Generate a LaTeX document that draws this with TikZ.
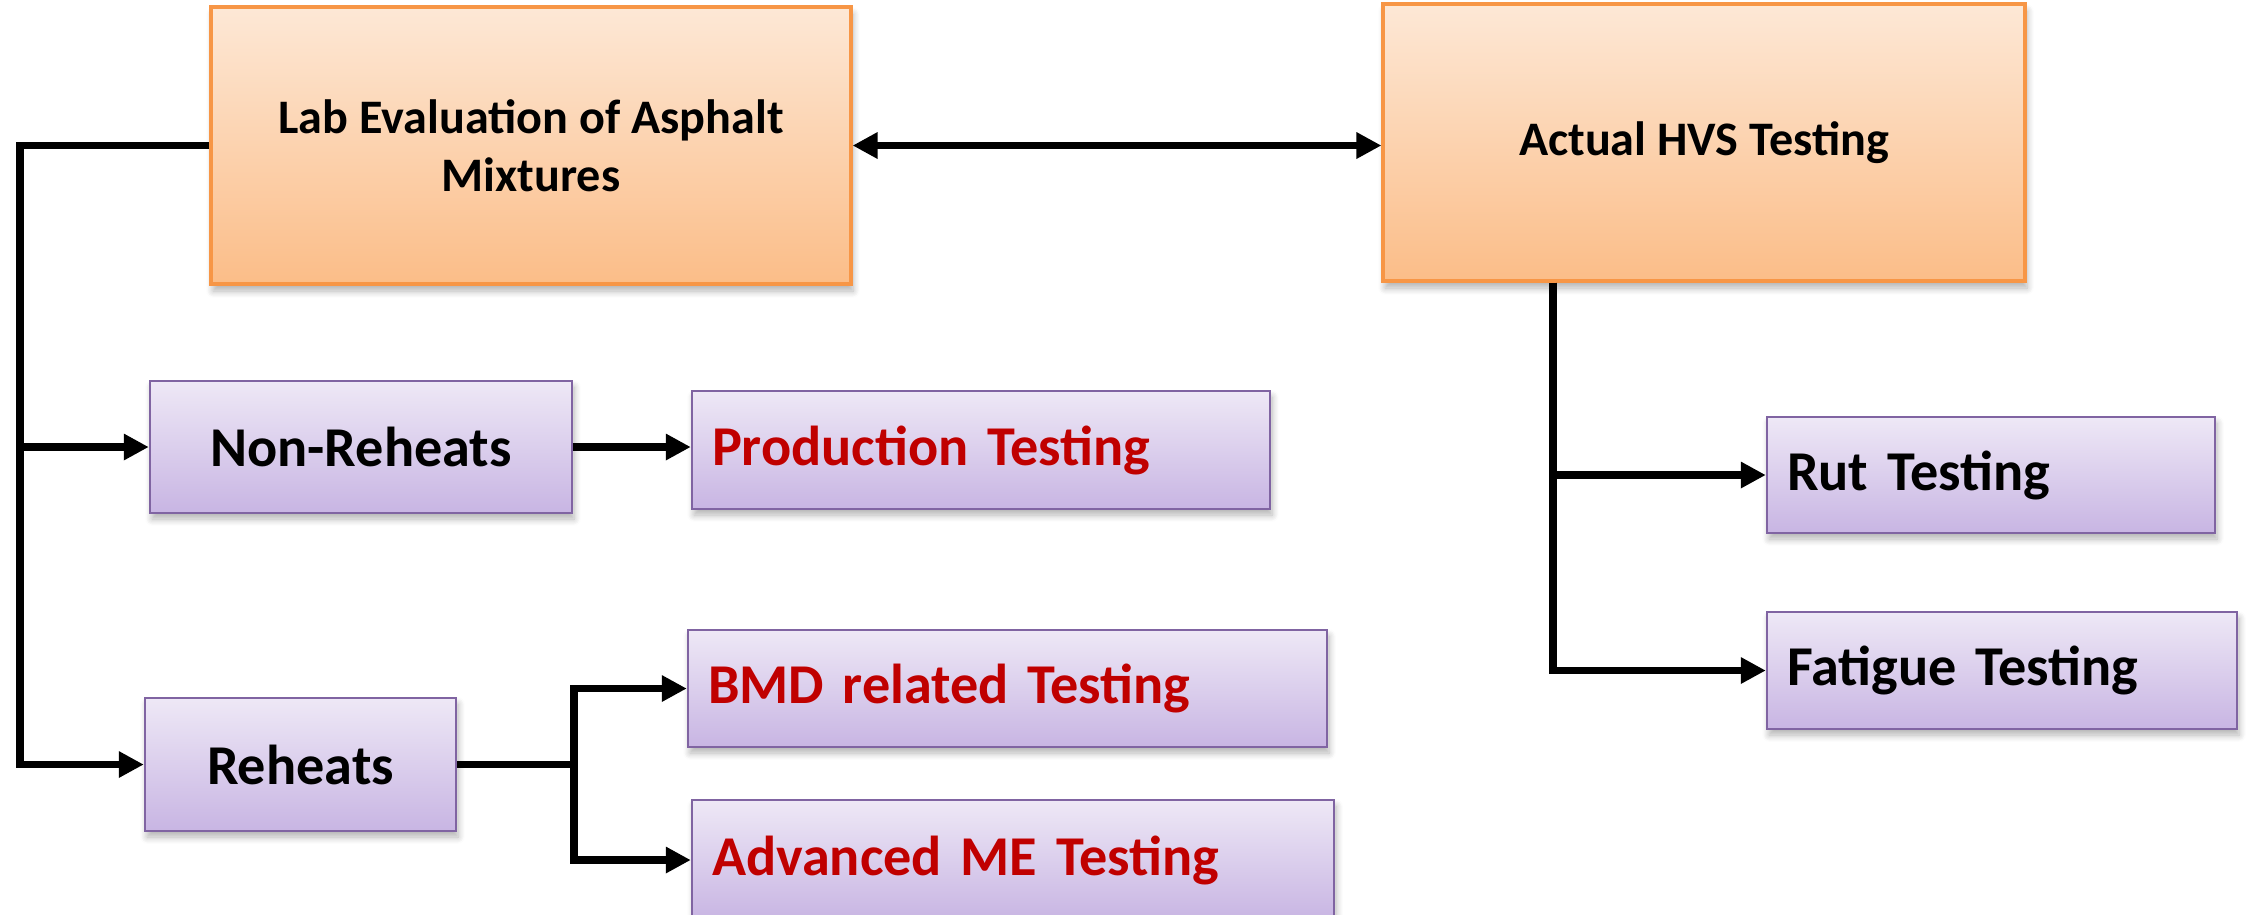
\documentclass[tikz,border=0pt]{standalone}
\usepackage{fontspec}
\setmainfont{Carlito}
\usetikzlibrary{arrows.meta,positioning,shadows.blur}
\definecolor{Peach}{HTML}{FDE8D6}
\definecolor{Apricot}{HTML}{FBBD88}
\definecolor{Tangerine}{HTML}{F79646}
\definecolor{Lilac}{HTML}{EEE8F6}
\definecolor{Lavender}{HTML}{C8B5E3}
\definecolor{Grape}{HTML}{8064A2}
\definecolor{Crimson}{HTML}{C00000}

\begin{document}
\begin{tikzpicture}[
  font=\bfseries,
  stage/.style={draw=Tangerine,line width=.9pt,top color=Peach,bottom color=Apricot,
    align=center,font=\fontsize{13.7}{16.5}\bfseries,
    blur shadow={shadow xshift=.2mm,shadow yshift=-.7mm,shadow blur steps=6,shadow opacity=30}},
  task/.style={draw=Grape,line width=.7pt,top color=Lilac,bottom color=Lavender,
    align=center,font=\fontsize{16}{19}\bfseries,inner sep=0pt,
    blur shadow={shadow xshift=.2mm,shadow yshift=-.6mm,shadow blur steps=6,shadow opacity=30}},
  leaf/.style={task,align=left,inner xsep=2mm,text=Crimson},
  line/.style={line width=2.2pt,draw=black},
  arrow/.style={line,-{Triangle[length=2.5mm,width=2.5mm]}},
  twoway/.style={line,{Triangle[length=2.5mm,width=2.5mm]}-{Triangle[length=2.5mm,width=2.5mm]}}]
\useasboundingbox (0,0) rectangle (22.47,-9.14);
% top level
\node[stage,minimum width=6.40cm,minimum height=2.77cm](lab) at (5.31,-1.455)
  {Lab Evaluation of Asphalt\\Mixtures};
\node[stage,minimum width=6.42cm,minimum height=2.77cm](hvs) at (17.04,-1.425)
  {Actual HVS Testing};
% lab branch
\node[task,minimum width=4.22cm,minimum height=1.32cm](nonreheat) at (3.61,-4.47){Non-Reheats};
\node[task,minimum width=3.11cm,minimum height=1.33cm](reheat) at (3.005,-7.645){Reheats};
\node[leaf,text width=5.38cm,minimum height=1.18cm](production) at (9.81,-4.50){Production Testing};
\node[leaf,text width=5.99cm,minimum height=1.17cm](bmd) at (10.075,-6.885){BMD related Testing};
\node[leaf,text width=6.02cm,minimum height=1.20cm](advanced) at (10.13,-8.60){Advanced ME Testing};
% hvs branch
\node[leaf,text=black,text width=4.08cm,minimum height=1.16cm](rut) at (19.91,-4.75){Rut Testing};
\node[leaf,text=black,text width=4.30cm,minimum height=1.17cm](fatigue) at (20.02,-6.705){Fatigue Testing};
% connectors
\coordinate (labbus) at (0.20,-1.455);
\coordinate (fork) at ([xshift=1.17cm]reheat.east);
\coordinate (hvsdrop) at ([xshift=-1.51cm]hvs.south);
\draw[twoway](lab.east)--(lab.east-|hvs.west);
\draw[arrow](lab.west)--(labbus)|-(reheat.west);
\draw[arrow](labbus|-nonreheat.west)--(nonreheat.west);
\draw[arrow](nonreheat.east)--(nonreheat.east-|production.west);
\draw[line](reheat.east)--(fork);
\draw[arrow](fork)|-(bmd.west);\draw[arrow](fork)|-(advanced.west);
\draw[arrow](hvsdrop)|-(rut.west);\draw[arrow](hvsdrop)|-(fatigue.west);
\end{tikzpicture}
\end{document}
